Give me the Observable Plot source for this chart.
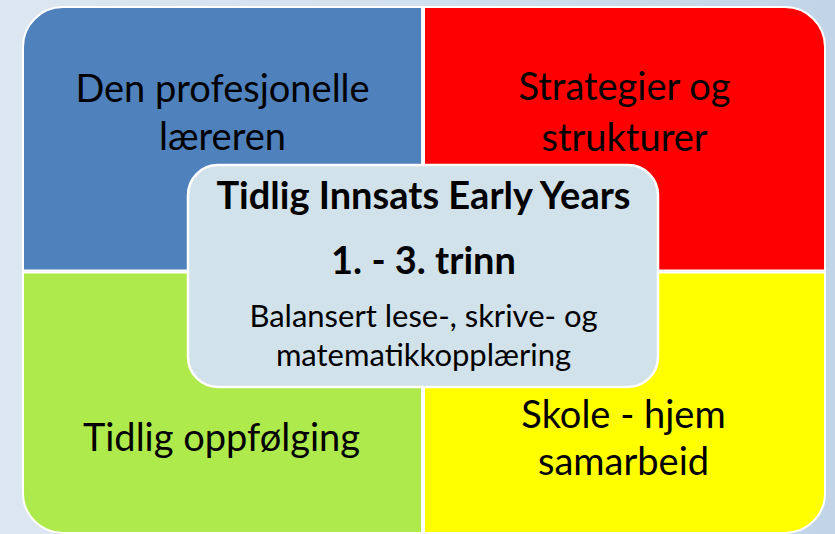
<!DOCTYPE html>
<html>
<head>
<meta charset="utf-8">
<script src="https://cdn.jsdelivr.net/npm/d3@7"></script>
<script src="https://cdn.jsdelivr.net/npm/@observablehq/plot@0.6"></script>
<style>
  html, body { margin: 0; padding: 0; }
  body { width: 835px; height: 534px; overflow: hidden;
         background: linear-gradient(90deg, #dde7f1 0%, #d3e0ed 50%, #c2d5e8 100%); }
</style>
</head>
<body>
<div id="chart"></div>
<script>
// Content
const quadrantNames = ["Den profesjonelle læreren", "Strategier og strukturer", "Tidlig oppfølging", "Skole - hjem samarbeid"];
const quadrantLines = [["Den profesjonelle", "læreren"], ["Strategier og", "strukturer"], ["Tidlig oppfølging"], ["Skole - hjem", "samarbeid"]];
const quadrantColors = ["#4f81bd", "#ff0000", "#aeea4b", "#ffff00"];
const centerTitle = "Tidlig Innsats Early Years";
const centerGrade = "1. - 3. trinn";
const centerLines = ["Balansert lese-, skrive- og", "matematikkopplæring"];

// Layout (pixel space)
const W = 835, H = 534;
const L = 23, R = 825, T = 7, B = 533, MX = 423, MY = 271.5, GAP = 1;
const RAD = 40;
const quadBoxes = [
  {x1: L, x2: MX - GAP, y1: T, y2: MY - GAP, corner: "tl"},
  {x1: MX + GAP, x2: R, y1: T, y2: MY - GAP, corner: "tr"},
  {x1: L, x2: MX - GAP, y1: MY + GAP, y2: B, corner: "bl"},
  {x1: MX + GAP, x2: R, y1: MY + GAP, y2: B, corner: "br"}
];
const quadTextY = [[89, 137], [87, 138], [438], [415, 462]];
const quadTextX = [222, 624, 221, 623];

const quads = quadrantNames.map((name, i) => ({name, color: quadrantColors[i], ...quadBoxes[i]}));
const quadText = quadrantLines.flatMap((lines, i) => lines.map((t, j) => ({t, x: quadTextX[i], y: quadTextY[i][j]})));

const centerBox = [{x1: 188, x2: 658, y1: 165, y2: 387}];
const centerText = [
  {t: centerTitle, y: 196, size: 38, weight: "bold"},
  {t: centerGrade, y: 261, size: 38, weight: "bold"},
  {t: centerLines[0], y: 317, size: 31, weight: "normal"},
  {t: centerLines[1], y: 356, size: 31, weight: "normal"}
];

const rectFor = (corner) => Plot.rect(quads.filter(d => d.corner === corner), {
  x1: "x1", x2: "x2", y1: "y1", y2: "y2", fill: "color", stroke: "white", strokeWidth: 2,
  rx1y1: corner === "tl" ? RAD : 0,
  rx2y1: corner === "tr" ? RAD : 0,
  rx1y2: corner === "bl" ? RAD : 0,
  rx2y2: corner === "br" ? RAD : 0
});

const chart = Plot.plot({
  width: W, height: H, margin: 0,
  x: {domain: [0, W], range: [0, W], axis: null},
  y: {domain: [0, H], range: [0, H], axis: null},
  style: {background: "transparent", overflow: "visible"},
  marks: [
    rectFor("tl"), rectFor("tr"), rectFor("bl"), rectFor("br"),
    Plot.text(quadText, {x: "x", y: "y", text: "t", fontSize: 38, fontFamily: "Lato", fill: "#000", textAnchor: "middle", lineAnchor: "middle"}),
    Plot.rect(centerBox, {x1: "x1", x2: "x2", y1: "y1", y2: "y2", fill: "#d1e2ea", stroke: "white", strokeWidth: 2.5, r: 30}),
    ...centerText.map(d => Plot.text([d], {x: 423, y: "y", text: "t", fontSize: d.size, fontWeight: d.weight, fontFamily: "Lato", fill: "#000", textAnchor: "middle", lineAnchor: "middle"}))
  ]
});
document.getElementById("chart").append(chart);
</script>
</body>
</html>
